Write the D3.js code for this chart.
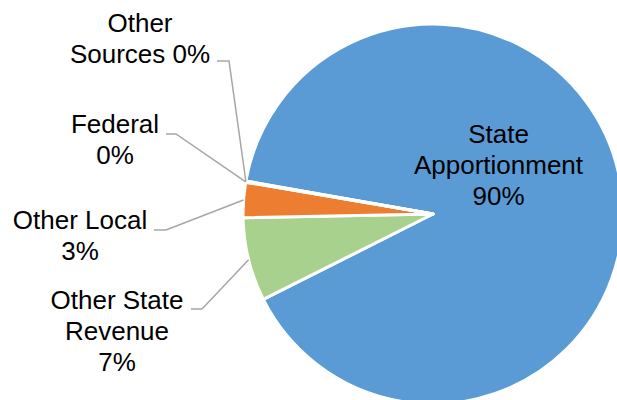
<!DOCTYPE html>
<html>
<head>
<meta charset="utf-8">
<title>Revenue Sources</title>
<style>
  body { margin: 0; background: #fff; }
  svg { display: block; font-family: "Liberation Sans", Arial, sans-serif; }
</style>
</head>
<body>
<svg width="617" height="400"></svg>
<script src="https://d3js.org/d3.v7.min.js"></script>
<script>
// data
var categories = ["State Apportionment", "Other State Revenue", "Other Local", "Federal", "Other Sources"];
var values     = [89.8, 7.1, 3.0, 0.06, 0.04];
var colors     = ["#5B9BD5", "#A9D18E", "#ED7D31", "#FFC000", "#4472C4"];
// how each data label is broken into lines ({p} = percentage)
var labelLines = [
  ["State", "Apportionment", "{p}"],
  ["Other State", "Revenue", "{p}"],
  ["Other Local", "{p}"],
  ["Federal", "{p}"],
  ["Other", "Sources {p}"]
];

// layout
var cx = 433, cy = 214, r = 190;
var lineH = 31;
// label centre x, first baseline y, and leader start (x,y) -> elbow x
var labelPos = [
  { x: 498.5, y: 143, inside: true },
  { x: 117, y: 309, lx1: 191, lx2: 202, ly: 309 },
  { x: 80,  y: 229, lx1: 154, lx2: 166, ly: 230 },
  { x: 115, y: 133, lx1: 166, lx2: 176, ly: 134 },
  { x: 140, y: 32,  lx1: 217, lx2: 229, ly: 61 }
];

var svg = d3.select("svg");
var fmt = d3.format(".0%");
var total = d3.sum(values);

var pie = d3.pie()
    .sort(null)
    .value(function(d) { return d; })
    .startAngle(-80 * Math.PI / 180)
    .endAngle(280 * Math.PI / 180);

var arc = d3.arc().innerRadius(0).outerRadius(r);
var arcs = pie(values);

var g = svg.append("g").attr("transform", "translate(" + cx + "," + cy + ")");

g.selectAll("path.slice")
  .data(arcs)
  .enter().append("path")
    .attr("class", "slice")
    .attr("d", arc)
    .attr("fill", function(d, i) { return colors[i]; })
    .attr("stroke", "#fff")
    .attr("stroke-width", 3)
    .attr("stroke-linejoin", "round");

// leader lines
arcs.forEach(function(a, i) {
  var p = labelPos[i];
  if (p.inside) return;
  var mid = (a.startAngle + a.endAngle) / 2;
  var ex = cx + Math.sin(mid) * r, ey = cy - Math.cos(mid) * r;
  svg.append("polyline")
      .attr("points", [[p.lx1, p.ly], [p.lx2, p.ly], [ex, ey]].map(function(q) { return q.join(","); }).join(" "))
      .attr("fill", "none")
      .attr("stroke", "#A6A6A6")
      .attr("stroke-width", 1.5);
});

// labels
arcs.forEach(function(a, i) {
  var p = labelPos[i];
  var pct = fmt(values[i] / total);
  var t = svg.append("text")
      .attr("text-anchor", "middle")
      .attr("font-size", 26)
      .attr("fill", "#000");
  labelLines[i].forEach(function(s, k) {
    t.append("tspan")
        .attr("x", p.x)
        .attr("y", p.y + k * lineH)
        .text(s.replace("{p}", pct));
  });
});
</script>
</body>
</html>
